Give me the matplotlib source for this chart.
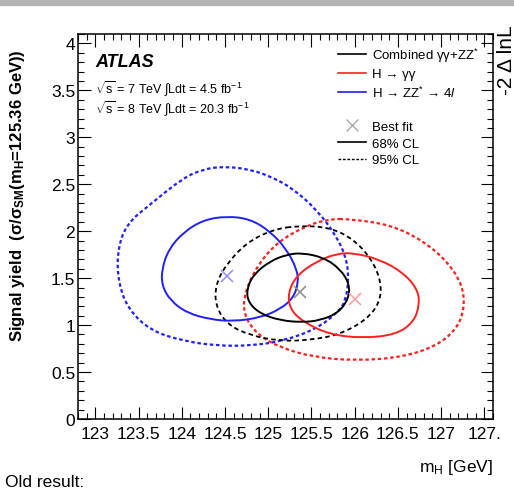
import matplotlib
matplotlib.use("Agg")
import matplotlib.pyplot as plt
import numpy as np
from matplotlib.lines import Line2D
from matplotlib.patches import Rectangle, PathPatch
from matplotlib.path import Path
from matplotlib.ticker import MultipleLocator

plt.rcParams['font.family'] = ['Liberation Sans', 'DejaVu Sans']
plt.rcParams['mathtext.fontset'] = 'custom'
plt.rcParams['mathtext.rm'] = 'Liberation Sans'
plt.rcParams['mathtext.it'] = 'Liberation Sans:italic'
plt.rcParams['mathtext.bf'] = 'Liberation Sans:bold'

# contours: (m_H, signal yield)
zz_68_x = [124.52, 124.79, 125.02, 125.21, 125.33, 125.35, 125.29, 125.14, 124.91,
           124.60, 124.33, 124.06, 123.87, 123.77, 123.77, 123.85, 124.02, 124.25]
zz_68_y = [2.16, 2.13, 2.00, 1.81, 1.60, 1.45, 1.29, 1.17, 1.08,
           1.04, 1.06, 1.13, 1.26, 1.42, 1.60, 1.81, 1.99, 2.12]
zz_95_x = [124.48, 124.79, 125.06, 125.29, 125.56, 125.79, 125.91, 125.93, 125.89,
           125.81, 125.56, 125.17, 124.79, 124.41, 124.02, 123.64, 123.38, 123.27,
           123.25, 123.35, 123.64, 124.02, 124.25]
zz_95_y = [2.69, 2.66, 2.57, 2.45, 2.23, 1.95, 1.70, 1.46, 1.25,
           1.14, 0.96, 0.83, 0.78, 0.78, 0.83, 0.94, 1.17, 1.44,
           1.76, 2.07, 2.29, 2.57, 2.66]
comb_68_x = [125.39, 125.64, 125.83, 125.94, 125.93, 125.81, 125.60, 125.39,
             125.14, 124.91, 124.77, 124.75, 124.83, 125.02, 125.21]
comb_68_y = [1.77, 1.72, 1.60, 1.44, 1.28, 1.13, 1.05, 1.03,
             1.05, 1.12, 1.24, 1.38, 1.54, 1.68, 1.75]
comb_95_x = [125.37, 125.71, 125.98, 126.20, 126.31, 126.29, 126.14, 125.83, 125.48,
             125.14, 124.79, 124.52, 124.39, 124.39, 124.50, 124.75, 125.06]
comb_95_y = [2.06, 2.04, 1.92, 1.70, 1.45, 1.24, 1.06, 0.90, 0.84,
             0.83, 0.89, 1.01, 1.21, 1.42, 1.63, 1.88, 2.02]
gg_68_x = [125.98, 126.29, 126.56, 126.73, 126.75, 126.68, 126.48, 126.10,
           125.71, 125.41, 125.25, 125.23, 125.33, 125.56, 125.79]
gg_68_y = [1.77, 1.70, 1.56, 1.38, 1.21, 1.03, 0.90, 0.86,
           0.90, 1.03, 1.17, 1.35, 1.53, 1.68, 1.76]
gg_95_x = [125.94, 126.41, 126.79, 127.08, 127.25, 127.27, 127.18, 126.95, 126.56, 126.02,
           125.52, 125.14, 124.87, 124.71, 124.73, 124.87, 125.10, 125.44, 125.71]
gg_95_y = [2.13, 2.07, 1.90, 1.67, 1.42, 1.17, 0.96, 0.78, 0.66, 0.62,
           0.66, 0.76, 0.90, 1.12, 1.35, 1.63, 1.88, 2.06, 2.13]

best_x = [124.52, 125.37, 126.00]
best_y = [1.52, 1.35, 1.28]
best_colors = ['#8c8cff', '#8a8a8a', '#ff9c9c']

xticks = [123, 123.5, 124, 124.5, 125, 125.5, 126, 126.5, 127, 127.5]
xticklabels = ['123', '123.5', '124', '124.5', '125', '125.5', '126', '126.5', '127', '127.']
yticks = [0, 0.5, 1, 1.5, 2, 2.5, 3, 3.5, 4]
yticklabels = ['0', '0.5', '1', '1.5', '2', '2.5', '3', '3.5', '4']

red = '#ff1f1f'
blue = '#1f1fff'

fig = plt.figure(figsize=(5.14, 4.89), dpi=100)
ax = fig.add_axes([0.1518, 0.1411, 0.8073, 0.7873])


def contour(xs, ys, **kw):
    # closed smooth path: read points act as quadratic bezier control points
    p = np.column_stack([xs, ys])
    mid = (p + np.roll(p, -1, axis=0)) / 2
    verts = [mid[-1]]
    codes = [Path.MOVETO]
    for i in range(len(p)):
        verts += [p[i], mid[i]]
        codes += [Path.CURVE3, Path.CURVE3]
    ax.add_patch(PathPatch(Path(verts, codes), fill=False, **kw))


contour(zz_95_x, zz_95_y, edgecolor=blue, lw=1.6, linestyle=(0, (1.6, 1.2)))
contour(gg_95_x, gg_95_y, edgecolor=red, lw=1.6, linestyle=(0, (1.6, 1.2)))
contour(comb_95_x, comb_95_y, edgecolor='black', lw=1.3, linestyle=(0, (2.5, 1.8)))
contour(zz_68_x, zz_68_y, edgecolor=blue, lw=1.4)
contour(gg_68_x, gg_68_y, edgecolor=red, lw=1.4)
contour(comb_68_x, comb_68_y, edgecolor='black', lw=1.4)
for bx, by, bc in zip(best_x, best_y, best_colors):
    ax.plot(bx, by, marker='x', color=bc, ms=9, mew=1.1, ls='none')

ax.set_xlim(122.8, 127.6)
ax.set_ylim(0, 4.1)
ax.set_xticks(xticks)
ax.set_xticklabels(xticklabels)
ax.set_yticks(yticks)
ax.set_yticklabels(yticklabels)
ax.xaxis.set_minor_locator(MultipleLocator(0.1))
ax.yaxis.set_minor_locator(MultipleLocator(0.1))
ax.tick_params(which='both', direction='in', top=True, right=True, width=0.8,
               labelsize=12.5)
ax.tick_params(which='major', length=9)
ax.tick_params(which='minor', length=4.5)
ax.tick_params(axis='x', pad=5)
ax.tick_params(axis='y', pad=2)
for s in ax.spines.values():
    s.set_linewidth(1.1)

ax.text(0.041, 0.918, 'ATLAS', transform=ax.transAxes, fontsize=13,
        fontweight='bold', fontstyle='italic')
ax.text(0.041, 0.86, r'$\sqrt{\mathrm{s}}$ = 7 TeV $\int$Ldt = 4.5 fb$^{-1}$',
        transform=ax.transAxes, fontsize=9, va='center')
ax.text(0.041, 0.808, r'$\sqrt{\mathrm{s}}$ = 8 TeV $\int$Ldt = 20.3 fb$^{-1}$',
        transform=ax.transAxes, fontsize=9, va='center')

handles = [
    Line2D([], [], color='black', lw=1.2),
    Line2D([], [], color=red, lw=1.2),
    Line2D([], [], color=blue, lw=1.2),
    Line2D([], [], color='none'),
    Line2D([], [], color='#aaaaaa', marker='x', ls='none', ms=9, mew=1),
    Line2D([], [], color='black', lw=1.2),
    Line2D([], [], color='black', lw=1.0, dashes=(2, 1.2)),
]
labels = ['Combined γγ+ZZ$^{*}$', 'H → γγ', 'H → ZZ$^{*}$ → 4$\\mathit{l}$', '',
          'Best fit', '68% CL', '95% CL']
ax.legend(handles, labels, loc='upper left', bbox_to_anchor=(0.6265, 0.97),
          frameon=False, fontsize=9.5, handlelength=2.1, handletextpad=0.45,
          labelspacing=0.33, borderpad=0, borderaxespad=0)

fig.text(0.035, 0.60,
         r'Signal yield  (σ/σ$_{\mathbf{SM}}$(m$_{\mathbf{H}}$=125.36 GeV))',
         rotation=90, ha='center', va='center', fontsize=12, fontweight='bold')
fig.text(0.959, 0.035, r'm$_{\mathrm{H}}$ [GeV]', ha='right', va='baseline',
         fontsize=12.5)
fig.text(0.01, 0.005, 'Old result:', ha='left', va='baseline', fontsize=12.5)
fig.text(0.966, 0.948, '-2 Δ lnL', rotation=90, ha='left', va='top', fontsize=15)

fig.patches.append(Rectangle((0, 0.988), 1, 0.012, transform=fig.transFigure,
                             color='#b4b4b4', zorder=0))

fig.savefig('out.png', dpi=100)
